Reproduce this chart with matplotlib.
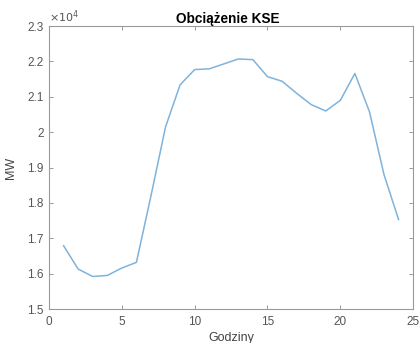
import matplotlib
matplotlib.use("Agg")
import matplotlib.pyplot as plt
from matplotlib.ticker import FuncFormatter

hours = list(range(1, 25))
load_mw = [16790, 16130, 15920, 15950, 16160, 16320, 18200, 20150, 21340, 21770,
           21790, 21930, 22070, 22050, 21570, 21440, 21100, 20780, 20600, 20900,
           21660, 20580, 18800, 17530]

title = "Obciążenie KSE"
xlabel = "Godziny"
ylabel = "MW"

plt.rcParams['font.family'] = ['Liberation Sans', 'DejaVu Sans']

fig = plt.figure(figsize=(4.19, 3.43), dpi=100)
ax = fig.add_axes([0.117, 0.099, 0.869, 0.825])
ax.plot(hours, load_mw, color='#7fb3db', lw=1.1)

ax.set_xlim(0, 25)
ax.set_ylim(15000, 23000)
ax.set_xticks([0, 5, 10, 15, 20, 25])
ax.set_yticks([15000, 16000, 17000, 18000, 19000, 20000, 21000, 22000, 23000])
ax.yaxis.set_major_formatter(FuncFormatter(lambda v, p: f"{v/1e4:g}"))
ax.tick_params(direction='in', top=True, right=True, labelsize=8.5,
               colors='#8a8a8a', labelcolor='#555555', length=3, width=0.6)
ax.tick_params(axis='x', pad=5)
ax.tick_params(axis='y', pad=4)
for s in ax.spines.values():
    s.set_color('#9a9a9a')
    s.set_linewidth(0.8)

ax.text(0.0, 1.005, r"$\times10^{4}$", transform=ax.transAxes, fontsize=8,
        color='#555555', ha='left', va='bottom')
ax.set_title(title, fontsize=9.8, fontweight='bold', pad=2, x=0.49)
ax.set_xlabel(xlabel, fontsize=9, color='#444444', labelpad=3)
ax.set_ylabel(ylabel, fontsize=9, color='#444444', labelpad=7)

fig.savefig("out.png", dpi=100)
